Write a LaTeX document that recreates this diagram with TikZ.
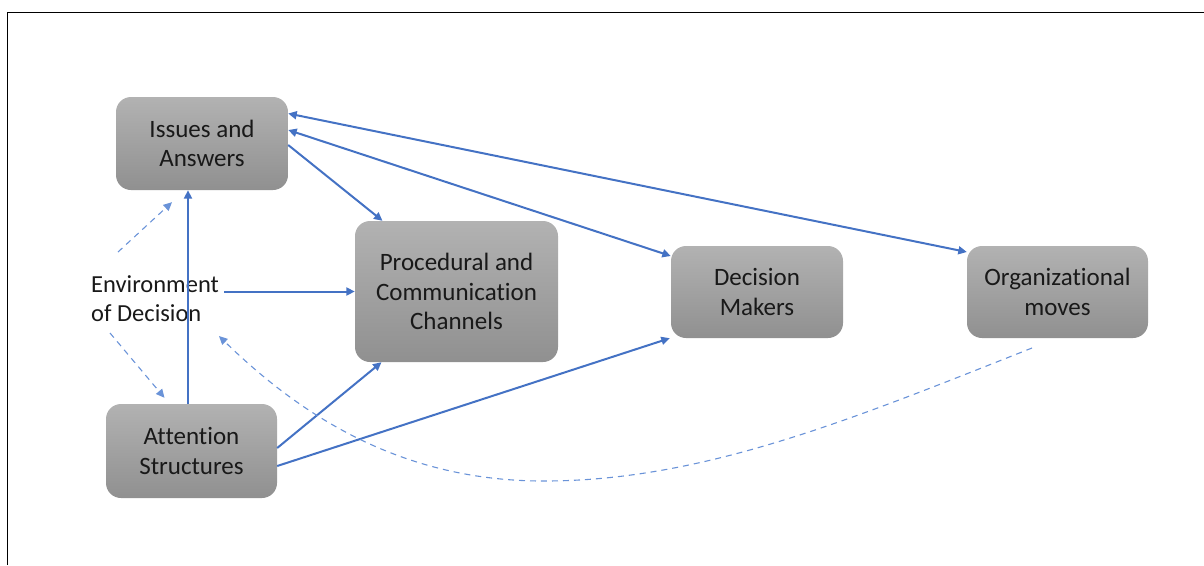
\documentclass[tikz,border=0pt]{standalone}
\usepackage{fontspec}
\setmainfont{Carlito}[Ligatures=NoCommon]
\usetikzlibrary{arrows.meta}
\definecolor{linkblue}{HTML}{4472C4}
\definecolor{dashblue}{HTML}{6A93D8}
\definecolor{boxtop}{HTML}{B2B2B2}
\definecolor{boxbot}{HTML}{909090}
\tikzset{
  box/.style={rounded corners=15pt, top color=boxtop, bottom color=boxbot,
    align=center, inner sep=0pt, text=black!90,
    font=\fontsize{25}{29.5}\selectfont},
  link/.style={draw=linkblue, line width=2pt,
    -{Triangle[length=8.5pt,width=8pt]}},
  twoway/.style={link, {Triangle[length=8.5pt,width=8pt]}-{Triangle[length=8.5pt,width=8pt]}},
  hint/.style={draw=dashblue, line width=1.1pt, dash pattern=on 6pt off 5pt,
    -{Triangle[length=8.5pt,width=8pt]}},
}
\begin{document}
\begin{tikzpicture}[x=1pt,y=-1pt]
\useasboundingbox (0,0) rectangle (1204,565);
% frame
\draw[line width=1pt] (7,565) -- (7,12) -- (1204,12);

% boxes
\node[box, minimum width=172pt, minimum height=93pt] (ia) at (202,143.5) {Issues and\\Answers};
\node[box, minimum width=203pt, minimum height=141pt] (pc) at (456.5,291.5) {Procedural and\\Communication\\Channels};
\node[box, minimum width=172pt, minimum height=92pt] (dm) at (757,292) {Decision\\Makers};
\node[box, minimum width=181pt, minimum height=92pt] (om) at (1057.5,292) {Organizational\\moves};
\node[box, minimum width=171pt, minimum height=94pt] (as) at (191.5,451) {Attention\\Structures};
\node[align=left, anchor=west, inner sep=0pt, text=black!90, font=\fontsize{24.5}{29}\selectfont] (env) at (91,299) {Environment\\of Decision};

% helper points
\coordinate (envup) at (118,252);
\coordinate (envdown) at (110,333);
\coordinate (envin) at (219,336);
\coordinate (omout) at (1032,348);

% solid connectors
\draw[twoway] ([yshift=30pt]ia.east) -- ([yshift=40pt]om.west);
\draw[twoway] ([yshift=13.5pt]ia.east) -- ([yshift=36pt]dm.west);
\draw[link] ([yshift=-1.5pt]ia.east) -- ([xshift=-74pt]pc.north);
\draw[link] ([xshift=-3.5pt]as.north) -- ([xshift=-14pt]ia.south);
\draw[link] ([xshift=5pt]env.east |- pc.west) -- (pc.west);
\draw[link] ([yshift=3pt]as.east) -- ([xshift=-75pt]pc.south);
\draw[link] ([yshift=-15pt]as.east) -- ([xshift=-1pt]dm.south west);

% dashed connectors
\draw[hint] (envup) -- ([xshift=-30pt,yshift=-12pt]ia.south);
\draw[hint] (envdown) -- ([xshift=-27pt,yshift=6pt]as.north);
\draw[hint] (omout) .. controls (850,420) and (700,482) .. (540,481)
  .. controls (400,480) and (300,415) .. (envin);
\end{tikzpicture}
\end{document}
